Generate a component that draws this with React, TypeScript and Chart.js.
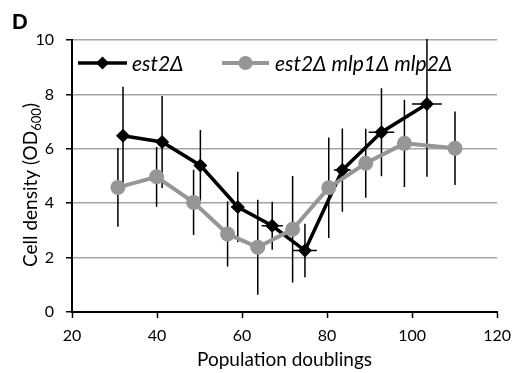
import React, { useEffect, useRef } from "react";
import { Chart, registerables } from "chart.js";

Chart.register(...registerables);

const blackX = [32.0, 41.2, 50.2, 59.0, 67.1, 74.8, 83.6, 92.8, 103.5];
const blackY = [6.48, 6.25, 5.39, 3.86, 3.17, 2.26, 5.22, 6.61, 7.65];
const blackErrY = [1.8, 1.69, 1.3, 1.3, 0.88, 0.98, 1.53, 1.62, 2.68];
const blackErrX = [1.0, 1.0, 1.2, 1.5, 2.5, 2.8, 2.0, 3.0, 3.5];

const grayX = [30.8, 39.9, 48.6, 56.6, 63.7, 71.9, 80.4, 89.1, 98.2, 110.1];
const grayY = [4.58, 4.97, 4.03, 2.87, 2.38, 3.04, 4.57, 5.47, 6.2, 6.02];
const grayErrY = [1.45, 1.1, 1.2, 1.2, 1.75, 1.96, 1.85, 1.27, 1.6, 1.35];
const grayErrX = [0.8, 0.8, 0.8, 0.8, 0.8, 0.8, 0.8, 1.5, 1.5, 0.8];

const seriesNames = ["est2Δ", "est2Δ mlp1Δ mlp2Δ"];
const xTicks = [20, 40, 60, 80, 100, 120];
const yTicks = [0, 2, 4, 6, 8, 10];

const BLACK = "#000000";
const GRAY = "rgb(150,150,150)";
const FONT = "Lato, 'Open Sans', sans-serif";

const errorBarPlugin = {
  id: "errorBars",
  beforeDatasetsDraw(chart: any) {
    const { ctx, scales, chartArea } = chart;
    const xs = scales.x;
    const ys = scales.y;
    ctx.save();
    ctx.beginPath();
    ctx.rect(chartArea.left - 2, chartArea.top - 1, chartArea.right - chartArea.left + 4, chartArea.bottom - chartArea.top + 2);
    ctx.clip();
    ctx.strokeStyle = "#000";
    ctx.lineWidth = 1.5;
    const draw = (X: number[], Y: number[], EY: number[], EX: number[]) => {
      for (let i = 0; i < X.length; i++) {
        const px = xs.getPixelForValue(X[i]);
        const py = ys.getPixelForValue(Y[i]);
        ctx.beginPath();
        ctx.moveTo(px, ys.getPixelForValue(Y[i] + EY[i]));
        ctx.lineTo(px, ys.getPixelForValue(Y[i] - EY[i]));
        ctx.moveTo(xs.getPixelForValue(X[i] - EX[i]), py);
        ctx.lineTo(xs.getPixelForValue(X[i] + EX[i]), py);
        ctx.stroke();
      }
    };
    draw(grayX, grayY, grayErrY, grayErrX);
    draw(blackX, blackY, blackErrY, blackErrX);
    ctx.restore();
  },
};

const decorPlugin = {
  id: "decor",
  afterDraw(chart: any) {
    const { ctx, chartArea } = chart;
    ctx.save();
    // Panel letter
    ctx.fillStyle = "#000";
    ctx.font = "bold 22px 'Liberation Sans', Arial, sans-serif";
    ctx.textBaseline = "alphabetic";
    ctx.textAlign = "left";
    ctx.fillText("D", 12, 29);

    // Y axis title with subscript
    ctx.save();
    const cy = (chartArea.top + chartArea.bottom) / 2 + 9;
    ctx.translate(37, cy);
    ctx.rotate(-Math.PI / 2);
    const mainFont = "19px " + FONT;
    const subFont = "13px " + FONT;
    ctx.font = mainFont;
    const p1 = "Cell density (OD";
    const p3 = ")";
    const w1 = ctx.measureText(p1).width;
    const w3 = ctx.measureText(p3).width;
    ctx.font = subFont;
    const w2 = ctx.measureText("600").width;
    const total = w1 + w2 + w3;
    let x0 = -total / 2;
    ctx.textAlign = "left";
    ctx.textBaseline = "alphabetic";
    ctx.font = mainFont;
    ctx.fillText(p1, x0, 0);
    ctx.font = subFont;
    ctx.fillText("600", x0 + w1, 4);
    ctx.font = mainFont;
    ctx.fillText(p3, x0 + w1 + w2, 0);
    ctx.restore();

    // Legend
    const ly = 63;
    const items = [
      { x0: 78, x1: 127, color: BLACK, lw: 3.5, name: seriesNames[0], tx: 132, marker: "diamond" },
      { x0: 222, x1: 269, color: GRAY, lw: 4, name: seriesNames[1], tx: 275, marker: "circle" },
    ];
    for (const it of items) {
      ctx.strokeStyle = it.color;
      ctx.lineWidth = it.lw;
      ctx.beginPath();
      ctx.moveTo(it.x0, ly);
      ctx.lineTo(it.x1, ly);
      ctx.stroke();
      const mx = (it.x0 + it.x1) / 2;
      ctx.fillStyle = it.color;
      ctx.beginPath();
      if (it.marker === "diamond") {
        const r = 6.5;
        ctx.moveTo(mx, ly - r);
        ctx.lineTo(mx + r, ly);
        ctx.lineTo(mx, ly + r);
        ctx.lineTo(mx - r, ly);
        ctx.closePath();
      } else {
        ctx.arc(mx, ly, 7, 0, Math.PI * 2);
      }
      ctx.fill();
      ctx.fillStyle = "#000";
      ctx.font = "italic 21px " + FONT;
      ctx.textAlign = "left";
      ctx.textBaseline = "middle";
      ctx.fillText(it.name, it.tx, ly + 1);
    }
    ctx.restore();
  },
};

export default function App() {
  const canvasRef = useRef<HTMLCanvasElement | null>(null);

  useEffect(() => {
    document.body.style.margin = "0";
    const canvas = canvasRef.current;
    if (!canvas) return;
    const chart = new Chart(canvas, {
      type: "line",
      data: {
        datasets: [
          {
            label: seriesNames[1],
            data: grayX.map((x, i) => ({ x, y: grayY[i] })),
            borderColor: GRAY,
            backgroundColor: GRAY,
            borderWidth: 4,
            pointStyle: "circle",
            pointRadius: 7.5,
            pointBorderWidth: 0,
            pointBackgroundColor: GRAY,
            order: 0,
          },
          {
            label: seriesNames[0],
            data: blackX.map((x, i) => ({ x, y: blackY[i] })),
            borderColor: BLACK,
            backgroundColor: BLACK,
            borderWidth: 3.5,
            pointStyle: "rectRot",
            pointRadius: 7,
            pointBorderWidth: 0,
            pointBackgroundColor: BLACK,
            order: 1,
          },
        ],
      },
      options: {
        responsive: false,
        animation: false,
        layout: { padding: { top: 40, right: 17, left: 0, bottom: 0 } },
        plugins: {
          legend: { display: false },
          tooltip: { enabled: false },
          title: { display: false },
        },
        scales: {
          x: {
            type: "linear",
            min: 20,
            max: 120,
            afterBuildTicks: (scale: any) => {
              scale.ticks = xTicks.map((v) => ({ value: v }));
            },
            afterFit: (scale: any) => {
              scale.height = 61;
            },
            grid: {
              drawOnChartArea: false,
              drawTicks: true,
              tickLength: 6,
              tickColor: "#000",
              tickWidth: 1.5,
            },
            border: { color: "#000", width: 2 },
            ticks: {
              color: "#000",
              font: { family: FONT, size: 16 },
              padding: 8,
              maxRotation: 0,
            },
            title: {
              display: true,
              text: "Population doublings",
              color: "#000",
              font: { family: FONT, size: 19 },
              padding: { top: 0, bottom: 2 },
            },
          },
          y: {
            type: "linear",
            min: 0,
            max: 10,
            afterBuildTicks: (scale: any) => {
              scale.ticks = yTicks.map((v) => ({ value: v }));
            },
            afterFit: (scale: any) => {
              scale.width = 72;
            },
            grid: {
              color: "rgb(165,165,165)",
              lineWidth: 1.5,
              drawTicks: true,
              tickLength: 6,
              tickColor: "#000",
              tickWidth: 1.5,
            },
            border: { color: "#000", width: 2 },
            ticks: {
              color: "#000",
              font: { family: FONT, size: 16 },
              padding: 12,
            },
          },
        },
      },
      plugins: [errorBarPlugin, decorPlugin],
    } as any);
    return () => chart.destroy();
  }, []);

  return (
    <div style={{ position: "absolute", left: 0, top: 0, width: 519, height: 373, background: "#fff" }}>
      <canvas ref={canvasRef} width={519} height={373} />
    </div>
  );
}
